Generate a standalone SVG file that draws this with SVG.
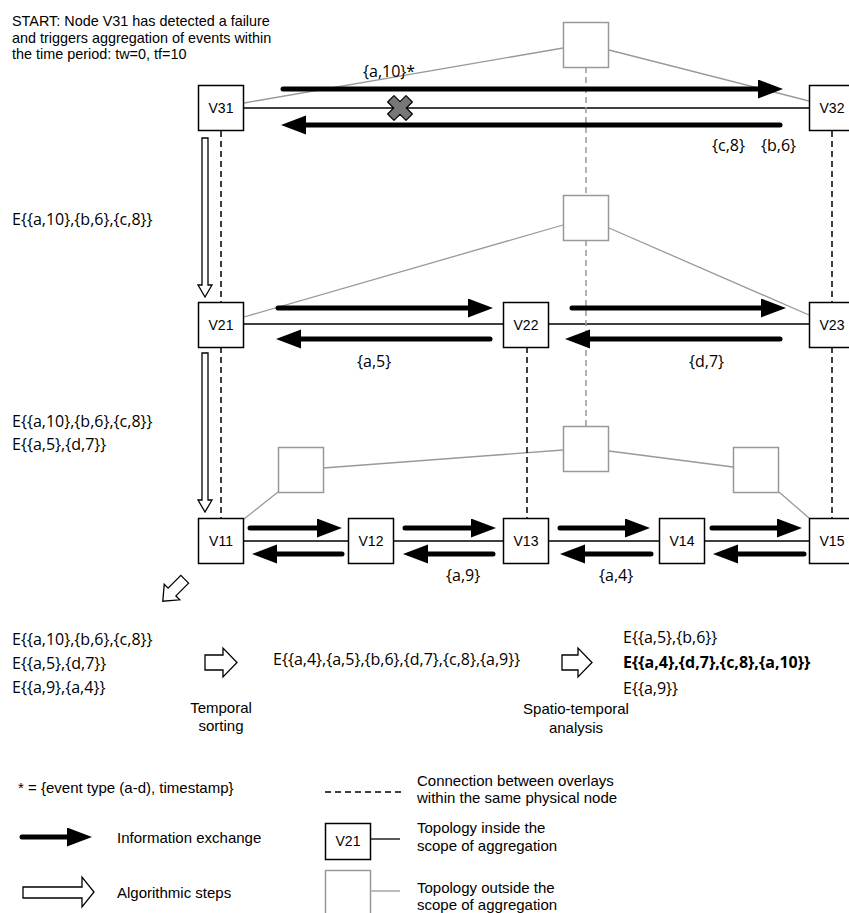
<svg xmlns="http://www.w3.org/2000/svg" width="849" height="913" viewBox="0 0 849 913">
<style>
.h{font-family:"Liberation Sans",Arial,Helvetica,sans-serif;font-size:15px;fill:#000}
.t{font-family:"Liberation Sans",Arial,Helvetica,sans-serif;font-size:14.4px;fill:#000}
.c{font-family:"Open Sans","Noto Sans",sans-serif;font-size:16px;fill:#000}
.lbl{font-family:"Liberation Sans",Arial,Helvetica,sans-serif;font-size:14px;fill:#000;text-anchor:middle}
.nd{fill:#fff;stroke:#000;stroke-width:1.5}
.gn{fill:#fff;stroke:#999;stroke-width:1.5}
.gl{stroke:#999;stroke-width:1.3;fill:none}
.bl{stroke:#000;stroke-width:1.3;fill:none}
.dk{stroke:#000;stroke-width:1.5;stroke-dasharray:6,4;fill:none}
.dg{stroke:#999;stroke-width:1.5;stroke-dasharray:6,4;fill:none}
.ar{stroke:#000;stroke-width:5;stroke-linecap:round;fill:none;marker-end:url(#ah)}
.ho{fill:#fff;stroke:#000;stroke-width:1.3;stroke-linejoin:miter}
</style>
<defs>
<marker id="ah" markerUnits="userSpaceOnUse" markerWidth="26" markerHeight="20" refX="15" refY="9.5" orient="auto">
<path d="M0,0 L25,9.5 L0,19 Z" fill="#000"/>
</marker>
</defs>
<rect width="849" height="913" fill="#fff"/>

<g id="connectors">
<path class="gl" d="M244,103 L563,48 M609,50 L809,101"/>
<path class="gl" d="M244,317 L563,225 M609,228 L809,315"/>
<path class="gl" d="M244,519 L278,492 M323,468 L563,450 M609,451 L733,467 M779,492 L809,518"/>
<path class="bl" d="M244,108 L809,108"/>
<path class="bl" d="M244,324 L503,324 M549,324 L809,324"/>
<path class="bl" d="M244,541 L348,541 M393,541 L503,541 M549,541 L659,541 M704,541 L809,541"/>
<path class="dg" d="M586,67 L586,195 M586,240 L586,426"/>
<path class="dk" d="M221,131 L221,302 M221,347 L221,518"/>
<path class="dk" d="M832,131 L832,302 M832,347 L832,518"/>
<path class="dk" d="M527,347 L527,518"/>
<path class="ar" d="M283,89 L773,89"/>
<path class="ar" d="M780,125 L291,125"/>
<path class="ar" d="M278,308 L483,308"/>
<path class="ar" d="M490,339 L286,339"/>
<path class="ar" d="M572,308 L776,308"/>
<path class="ar" d="M780,339 L575,339"/>
<path class="ar" d="M250,528 L332,528"/>
<path class="ar" d="M342,554 L262,554"/>
<path class="ar" d="M405,528 L486,528"/>
<path class="ar" d="M493,554 L413,554"/>
<path class="ar" d="M560,528 L640,528"/>
<path class="ar" d="M651,554 L570,554"/>
<path class="ar" d="M712,528 L792,528"/>
<path class="ar" d="M804,554 L723,554"/>
<path transform="translate(400,108) rotate(45)" d="M-4.5,-13 L4.5,-13 L4.5,-4.5 L13,-4.5 L13,4.5 L4.5,4.5 L4.5,13 L-4.5,13 L-4.5,4.5 L-13,4.5 L-13,-4.5 L-4.5,-4.5 Z" fill="#777" stroke="#000" stroke-width="1.2" stroke-linejoin="round"/>
<path class="ho" d="M202,138 L208,138 L208,285 L212,285 L205,297 L198,285 L202,285 Z"/>
<path class="ho" d="M202,353 L208,353 L208,500 L212,500 L205,512 L198,500 L202,500 Z"/>
<path class="ho" transform="translate(172,592) rotate(135)" d="M-18,-5.5 L0,-5.5 L0,-11 L13,0 L0,11 L0,5.5 L-18,5.5 Z"/>
<path class="ho" d="M205,655 L223,655 L223,648 L237,662.5 L223,677 L223,670 L205,670 Z"/>
<path class="ho" d="M562,655 L578,655 L578,648 L592,662.5 L578,677 L578,670 L562,670 Z"/>
</g>

<g id="V31"><rect class="nd" x="198.5" y="85.5" width="45" height="45"/><text class="lbl" x="221" y="113">V31</text></g>
<g id="V32"><rect class="nd" x="809.5" y="85.5" width="45" height="45"/><text class="lbl" x="832" y="113">V32</text></g>
<g id="G3"><rect class="gn" x="563.5" y="22.5" width="45" height="45"/></g>
<g id="V21"><rect class="nd" x="198.5" y="302.5" width="45" height="45"/><text class="lbl" x="221" y="330">V21</text></g>
<g id="V22"><rect class="nd" x="503.5" y="302.5" width="45" height="45"/><text class="lbl" x="526" y="330">V22</text></g>
<g id="V23"><rect class="nd" x="809.5" y="302.5" width="45" height="45"/><text class="lbl" x="832" y="330">V23</text></g>
<g id="G2"><rect class="gn" x="563.5" y="195.5" width="45" height="45"/></g>
<g id="G1a"><rect class="gn" x="278.5" y="447.5" width="45" height="45"/></g>
<g id="G1b"><rect class="gn" x="563.5" y="426.5" width="45" height="45"/></g>
<g id="G1c"><rect class="gn" x="733.5" y="447.5" width="45" height="45"/></g>
<g id="V11"><rect class="nd" x="198.5" y="518.5" width="45" height="45"/><text class="lbl" x="221" y="546">V11</text></g>
<g id="V12"><rect class="nd" x="348.5" y="518.5" width="45" height="45"/><text class="lbl" x="371" y="546">V12</text></g>
<g id="V13"><rect class="nd" x="503.5" y="518.5" width="45" height="45"/><text class="lbl" x="526" y="546">V13</text></g>
<g id="V14"><rect class="nd" x="659.5" y="518.5" width="45" height="45"/><text class="lbl" x="682" y="546">V14</text></g>
<g id="V15"><rect class="nd" x="809.5" y="518.5" width="45" height="45"/><text class="lbl" x="832" y="546">V15</text></g>

<g id="texts">
<text class="t" x="12" y="26">START: Node V31 has detected a failure</text>
<text class="t" x="12" y="42.5">and triggers aggregation of events within</text>
<text class="t" x="12" y="59">the time period: tw=0, tf=10</text>
<text class="c" x="363" y="77">{a,10}*</text>
<text class="c" x="712" y="151">{c,8}</text>
<text class="c" x="761" y="151">{b,6}</text>
<text class="c" x="12" y="225">E{{a,10},{b,6},{c,8}}</text>
<text class="c" x="357" y="367">{a,5}</text>
<text class="c" x="689" y="367">{d,7}</text>
<text class="c" x="12" y="427">E{{a,10},{b,6},{c,8}}</text>
<text class="c" x="12" y="450">E{{a,5},{d,7}}</text>
<text class="c" x="446" y="581">{a,9}</text>
<text class="c" x="599" y="581">{a,4}</text>
<text class="c" x="12" y="645">E{{a,10},{b,6},{c,8}}</text>
<text class="c" x="12" y="669">E{{a,5},{d,7}}</text>
<text class="c" x="12" y="693">E{{a,9},{a,4}}</text>
<text class="c" x="273" y="665">E{{a,4},{a,5},{b,6},{d,7},{c,8},{a,9}}</text>
<text class="c" x="623" y="643">E{{a,5},{b,6}}</text>
<text class="c" x="623" y="668" font-weight="bold">E{{a,4},{d,7},{c,8},{a,10}}</text>
<text class="c" x="623" y="694">E{{a,9}}</text>
<text class="h" x="221" y="713" text-anchor="middle">Temporal</text>
<text class="h" x="221" y="731" text-anchor="middle">sorting</text>
<text class="h" x="576" y="714" text-anchor="middle">Spatio-temporal</text>
<text class="h" x="576" y="733" text-anchor="middle">analysis</text>
</g>

<g id="legend">
<text class="h" x="18" y="793">* = {event type (a-d), timestamp}</text>
<path class="ar" d="M22,837 L82,837"/>
<text class="h" x="117" y="843">Information exchange</text>
<path class="ho" d="M23,887 L82,887 L82,877 L94,892 L82,907 L82,898 L23,898 Z"/>
<text class="h" x="117" y="898">Algorithmic steps</text>
<path class="dk" d="M325,792 L402,792"/>
<text class="h" x="417" y="786">Connection between overlays</text>
<text class="h" x="417" y="803">within the same physical node</text>
<rect class="nd" x="325.5" y="823.5" width="45" height="36"/>
<text class="lbl" x="348" y="846">V21</text>
<path class="bl" d="M370,839 L400,839"/>
<text class="h" x="417" y="833">Topology inside the</text>
<text class="h" x="417" y="851">scope of aggregation</text>
<rect class="gn" x="325.5" y="870.5" width="45" height="60"/>
<path class="gl" d="M370,891 L400,891"/>
<text class="h" x="417" y="893">Topology outside the</text>
<text class="h" x="417" y="910">scope of aggregation</text>
</g>
</svg>
